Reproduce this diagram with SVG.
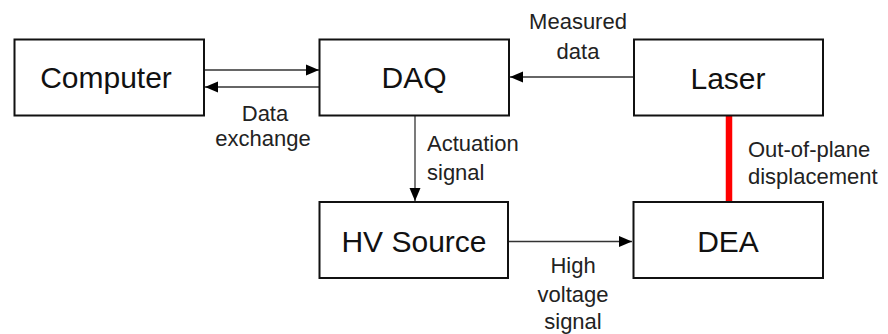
<svg xmlns="http://www.w3.org/2000/svg" width="888" height="334" viewBox="0 0 888 334">
<style>
.box{fill:#fff;stroke:#111;stroke-width:2}
.lbl{font-family:"Liberation Sans",Arial,sans-serif;font-size:30px;fill:#111;text-anchor:middle}
.t{font-family:"Liberation Sans",Arial,sans-serif;font-size:22px;fill:#222}
.c{stroke:#333;stroke-width:1.3;fill:none}
</style>
<defs>
<marker id="ah" markerUnits="userSpaceOnUse" markerWidth="14" markerHeight="14" viewBox="0 0 14 14" refX="13" refY="7" orient="auto">
<path d="M0,1.5 L13,7 L0,12.5 Z" fill="#000"/>
</marker>
</defs>
<rect width="888" height="334" fill="#fff"/>
<g id="connectors">
<line class="c" x1="205" y1="70" x2="319" y2="70" marker-end="url(#ah)"/>
<line class="c" x1="319" y1="87" x2="205" y2="87" marker-end="url(#ah)"/>
<line class="c" x1="633" y1="77" x2="510" y2="77" marker-end="url(#ah)"/>
<line class="c" x1="415" y1="116" x2="415" y2="201" marker-end="url(#ah)"/>
<line class="c" x1="509" y1="241.5" x2="632" y2="241.5" marker-end="url(#ah)"/>
<line x1="729" y1="116" x2="729" y2="202" stroke="#f00" stroke-width="6.5"/>
</g>
<g id="computer"><rect class="box" x="14.5" y="39.5" width="189.5" height="76"/><text class="lbl" x="106" y="88">Computer</text></g>
<g id="daq"><rect class="box" x="319.5" y="39.5" width="189.5" height="76"/><text class="lbl" x="414" y="88">DAQ</text></g>
<g id="laser"><rect class="box" x="634" y="39.5" width="189" height="76"/><text class="lbl" x="728" y="89">Laser</text></g>
<g id="hv-source"><rect class="box" x="319.5" y="202" width="188.5" height="76"/><text class="lbl" x="414" y="252">HV Source</text></g>
<g id="dea"><rect class="box" x="633.5" y="202" width="189.5" height="76"/><text class="lbl" x="728" y="252">DEA</text></g>
<g id="labels">
<text class="t" text-anchor="middle"><tspan x="578" y="29">Measured</tspan><tspan x="578" y="59">data</tspan></text>
<text class="t" text-anchor="middle"><tspan x="265" y="121">Data</tspan><tspan x="263" y="146">exchange</tspan></text>
<text class="t"><tspan x="427" y="151">Actuation</tspan><tspan x="427" y="180">signal</tspan></text>
<text class="t" text-anchor="middle"><tspan x="573" y="273">High</tspan><tspan x="573" y="302">voltage</tspan><tspan x="573" y="329">signal</tspan></text>
<text class="t"><tspan x="748" y="157">Out-of-plane</tspan><tspan x="748" y="184">displacement</tspan></text>
</g>
</svg>
